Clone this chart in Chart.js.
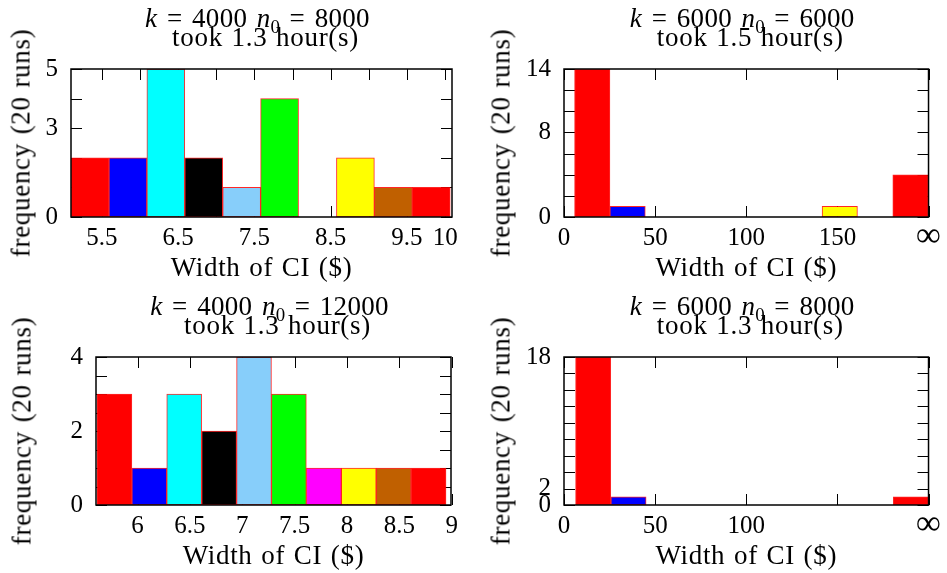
<!DOCTYPE html>
<html><head><meta charset="utf-8">
<script src="https://cdn.jsdelivr.net/npm/chart.js@4.4.1/dist/chart.umd.min.js"></script>
<style>
html,body{margin:0;padding:0;background:#fff;width:947px;height:573px;overflow:hidden;}
.pane{position:absolute;}
.txt{position:absolute;font-family:'Liberation Serif',serif;font-size:27px;line-height:27px;white-space:nowrap;color:#000;letter-spacing:0.7px;word-spacing:1.2px;}
.ttl1{letter-spacing:0.3px;word-spacing:2.5px;}
.hc{transform:translateX(-50%);}
.rot{transform:translate(-50%,-50%) rotate(-90deg);}
.sub{font-size:0.7em;position:relative;top:0.28em;letter-spacing:0;}
</style></head><body>
<script>
// ---------------- data ----------------
const barColors = ['#ff0000','#0000ff','#00ffff','#000000','#87cefa','#00ff00','#ff00ff','#ffff00','#c06000','#ff0000'];

const panelK = [4000, 6000, 4000, 6000];
const panelN0 = [8000, 6000, 12000, 8000];
const panelHours = ['1.3', '1.5', '1.3', '1.3'];
const xAxisTitle = 'Width of CI ($)';
const yAxisTitle = 'frequency (20 runs)';

// panel A : k=4000 n0=8000
const binsA = [5.345, 5.842, 6.339, 6.836, 7.333, 7.830, 8.327, 8.824, 9.321, 9.818];
const countsA = [2, 2, 5, 2, 1, 4, 0, 2, 1, 1];
const xTicksA = [5.5, 6, 6.5, 7, 7.5, 8, 8.5, 9, 9.5, 10];
const xLabelsA = ['5.5', '', '6.5', '', '7.5', '', '8.5', '', '9.5', '10'];
const xRangeA = [5.096, 10.09];
const yTicksA = [0, 1, 2, 3, 4, 5];
const yLabelsA = ['0', '', '', '3', '', '5'];

// panel B : k=6000 n0=6000
const binsB = [15.5, 34.9, 54.3, 73.7, 93.1, 112.5, 131.9, 151.3, 170.7, 190.1];
const countsB = [14, 1, 0, 0, 0, 0, 0, 1, 0, 4];
const xTicksB = [0, 50, 100, 150, 200];
const xLabelsB = ['0', '50', '100', '150', '\u221e'];
const xRangeB = [0, 200];
const yTicksB = [0, 2, 4, 6, 8, 10, 12, 14];
const yLabelsB = ['0', '', '', '', '8', '', '', '14'];

// panel C : k=4000 n0=12000
const binsC = [5.779, 6.112, 6.445, 6.779, 7.112, 7.445, 7.779, 8.112, 8.445, 8.779];
const countsC = [3, 1, 3, 2, 4, 3, 1, 1, 1, 1];
const xTicksC = [6, 6.5, 7, 7.5, 8, 8.5, 9];
const xLabelsC = ['6', '6.5', '7', '7.5', '8', '8.5', '9'];
const xRangeC = [5.603, 8.993];
const yTicksC = [0, 0.5, 1, 1.5, 2, 2.5, 3, 3.5, 4];
const yLabelsC = ['0', '', '', '', '2', '', '', '', '4'];

// panel D : k=6000 n0=8000
const binsD = [16.0, 35.4, 54.7, 74.1, 93.5, 112.8, 132.2, 151.6, 170.9, 190.3];
const countsD = [18, 1, 0, 0, 0, 0, 0, 0, 0, 1];
const xTicksD = [0, 50, 100, 150, 200];
const xLabelsD = ['0', '50', '100', '', '\u221e'];
const xRangeD = [0, 200];
const yTicksD = [0, 2, 4, 6, 8, 10, 12, 14, 16, 18];
const yLabelsD = ['0', '2', '', '', '', '', '', '', '', '18'];

// ---------------- layout ----------------
const panes = [
  {left:0,   top:0,   w:470, h:290, yw:71, xh:73, pt:69, pr:18, ytx:21},
  {left:470, top:0,   w:477, h:290, yw:94, xh:73, pt:69, pr:15, ytx:501},
  {left:0,   top:290, w:470, h:283, yw:96, xh:68, pt:67, pr:19, ytx:22},
  {left:470, top:290, w:477, h:283, yw:94, xh:68, pt:67, pr:15, ytx:501}
];
const FS = 25;      // tick labels
const TFS = 27;     // html text
const FONT = "'Liberation Serif', serif";

const frameTicks = {
  id: 'frameTicks',
  beforeDatasetsDraw(chart) {
    const {ctx, chartArea: a, scales: {x, y}} = chart;
    const L = 11;
    ctx.save();
    ctx.strokeStyle = '#000';
    ctx.lineWidth = 1;
    ctx.beginPath();
    x.ticks.forEach(t => {
      const px = Math.round(x.getPixelForValue(t.value)) + 0.5;
      ctx.moveTo(px, a.bottom); ctx.lineTo(px, a.bottom - L);
      ctx.moveTo(px, a.top); ctx.lineTo(px, a.top + L);
    });
    y.ticks.forEach(t => {
      const py = Math.round(y.getPixelForValue(t.value)) + 0.5;
      ctx.moveTo(a.left, py); ctx.lineTo(a.left + L, py);
      ctx.moveTo(a.right, py); ctx.lineTo(a.right - L, py);
    });
    ctx.stroke();
    ctx.restore();
  },
  afterDatasetsDraw(chart) {
    const {ctx, chartArea: a} = chart;
    ctx.save();
    ctx.strokeStyle = '#000';
    ctx.lineWidth = 1.5;
    ctx.strokeRect(a.left, a.top, a.right - a.left, a.bottom - a.top);
    ctx.restore();
  }
};

function addText(html, cls, styles) {
  const d = document.createElement('div');
  d.className = 'txt ' + cls;
  d.innerHTML = html;
  Object.assign(d.style, styles);
  document.body.appendChild(d);
  return d;
}

function makePanel(i, bins, counts, xTicks, xLabels, xRange, yTicks, yLabels) {
  const p = panes[i];
  const wrap = document.createElement('div');
  wrap.className = 'pane';
  Object.assign(wrap.style, {left: p.left + 'px', top: p.top + 'px', width: p.w + 'px', height: p.h + 'px'});
  const cv = document.createElement('canvas');
  cv.width = p.w; cv.height = p.h;
  cv.style.width = p.w + 'px'; cv.style.height = p.h + 'px';
  wrap.appendChild(cv);
  document.body.appendChild(wrap);

  const chart = new Chart(cv, {
    type: 'bar',
    data: {
      datasets: [{
        data: bins.map((b, j) => ({x: b, y: counts[j]})),
        backgroundColor: barColors,
        borderColor: 'rgba(255,0,0,0.85)',
        borderWidth: 1,
        borderSkipped: false,
        barPercentage: 1.0,
        categoryPercentage: 1.0
      }]
    },
    options: {
      responsive: false,
      animation: false,
      devicePixelRatio: 1,
      layout: {padding: {left: 0, top: p.pt, right: p.pr, bottom: 0}},
      plugins: {legend: {display: false}, tooltip: {enabled: false}, title: {display: false}},
      scales: {
        x: {
          type: 'linear', min: xRange[0], max: xRange[1], offset: false,
          grid: {display: false, drawTicks: false},
          border: {display: false},
          afterBuildTicks: s => { s.ticks = xTicks.map(v => ({value: v})); },
          afterFit: s => { s.height = p.xh; },
          ticks: {autoSkip: false, maxRotation: 0, minRotation: 0, padding: 6, color: '#000',
                  font: c => (c.tick && c.tick.label === '\u221e')
                        ? {family: FONT, size: 35, lineHeight: 0.8}
                        : {family: FONT, size: FS},
                  callback: (v, j) => xLabels[j]}
        },
        y: {
          type: 'linear', min: 0, max: yTicks[yTicks.length - 1],
          grid: {display: false, drawTicks: false},
          border: {display: false},
          afterBuildTicks: s => { s.ticks = yTicks.map(v => ({value: v})); },
          afterFit: s => { s.width = p.yw; },
          ticks: {autoSkip: false, padding: 13, color: '#000',
                  font: {family: FONT, size: FS}, callback: (v, j) => yLabels[j]}
        }
      }
    },
    plugins: [frameTicks]
  });

  const a = chart.chartArea;
  const L = p.left + a.left, R = p.left + a.right, T = p.top + a.top, B = p.top + a.bottom;
  const cx = (L + R) / 2, cy = (T + B) / 2;
  const asc = 0.8375 * TFS;
  addText('<i>k</i> = ' + panelK[i] + ' <i>n</i><span class="sub">0</span> = ' + panelN0[i], 'hc ttl1',
          {left: (cx - 4) + 'px', top: (T - 41 - asc) + 'px'});
  addText('took ' + panelHours[i] + ' hour(s)', 'hc',
          {left: (cx + 4) + 'px', top: (T - 22 - asc) + 'px'});
  addText(xAxisTitle.replace('$', '&#36;'), 'hc',
          {left: cx + 'px', top: (B + 60 - asc) + 'px'});
  addText(yAxisTitle, 'rot', {left: p.ytx + 'px', top: cy + 'px'});
}

makePanel(0, binsA, countsA, xTicksA, xLabelsA, xRangeA, yTicksA, yLabelsA);
makePanel(1, binsB, countsB, xTicksB, xLabelsB, xRangeB, yTicksB, yLabelsB);
makePanel(2, binsC, countsC, xTicksC, xLabelsC, xRangeC, yTicksC, yLabelsC);
makePanel(3, binsD, countsD, xTicksD, xLabelsD, xRangeD, yTicksD, yLabelsD);
</script>
</body></html>
